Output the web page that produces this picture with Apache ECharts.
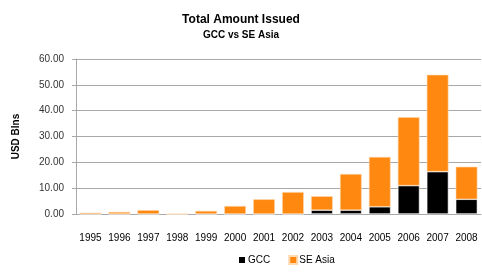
<!DOCTYPE html>
<html lang="en">
<head>
    <meta charset="UTF-8">
    <title>Total Amount Issued</title>
    <script src="https://cdn.jsdelivr.net/npm/echarts@6/dist/echarts.min.js"></script>
    <style>
        html, body { margin: 0; padding: 0; background: #fff; }
        #chart { width: 482px; height: 274px; }
    </style>
</head>
<body>
    <div id="chart"></div>
    <script>
        // years on the x axis
        const years = ['1995', '1996', '1997', '1998', '1999', '2000', '2001', '2002', '2003', '2004', '2005', '2006', '2007', '2008'];
        // USD bln
        const gcc = [0, 0, 0, 0, 0, 0, 0, 0, 1.5, 1.5, 2.8, 11.0, 16.4, 5.7];
        const seAsia = [0.5, 0.8, 1.5, 0, 1.2, 3.1, 5.7, 8.5, 5.4, 14.0, 19.3, 26.5, 37.5, 12.6];

        const font = 'Liberation Sans, Arial, sans-serif';
        const myChart = echarts.init(document.getElementById('chart'));
        const option = {
            animation: false,
            textStyle: { fontFamily: font },
            title: {
                text: 'Total Amount Issued',
                subtext: 'GCC vs SE Asia',
                left: 'center',
                top: 9,
                itemGap: 4,
                textStyle: { fontSize: 12, fontWeight: 'bold', color: '#000', fontFamily: font },
                subtextStyle: { fontSize: 10, fontWeight: 'bold', color: '#000', fontFamily: font }
            },
            legend: {
                bottom: 4,
                left: 232,
                icon: 'rect',
                itemWidth: 8,
                itemHeight: 8,
                itemGap: 18,
                textStyle: { fontSize: 10, color: '#000', padding: [0, 0, 0, -3] },
                data: ['GCC', 'SE Asia']
            },
            grid: { left: 76, right: 1, top: 59, bottom: 60 },
            xAxis: {
                type: 'category',
                data: years,
                axisTick: { show: false },
                axisLine: { lineStyle: { color: '#a8a8a8', width: 1 } },
                axisLabel: { color: '#000', fontSize: 10, margin: 19, interval: 0 }
            },
            yAxis: {
                type: 'value',
                min: 0,
                max: 60,
                interval: 10,
                name: 'USD Blns',
                nameLocation: 'middle',
                nameGap: 55,
                nameTextStyle: { fontSize: 10, fontWeight: 'bold', color: '#000' },
                axisLine: { show: true, lineStyle: { color: '#a8a8a8' } },
                axisTick: { show: true, length: 4, lineStyle: { color: '#a8a8a8' } },
                splitLine: { lineStyle: { color: '#a8a8a8', width: 1 } },
                axisLabel: {
                    color: '#333',
                    fontSize: 10,
                    margin: 12,
                    formatter: function (v) { return v.toFixed(2); }
                }
            },
            series: [
                {
                    name: 'GCC',
                    type: 'bar',
                    stack: 'total',
                    data: gcc,
                    barCategoryGap: '25%',
                    itemStyle: { color: '#000', borderColor: '#fff', borderWidth: 0.6 }
                },
                {
                    name: 'SE Asia',
                    type: 'bar',
                    stack: 'total',
                    data: seAsia,
                    itemStyle: { color: '#ff8811', borderColor: '#ffd9b0', borderWidth: 0.6 }
                }
            ]
        };
        myChart.setOption(option);
    </script>
</body>
</html>
